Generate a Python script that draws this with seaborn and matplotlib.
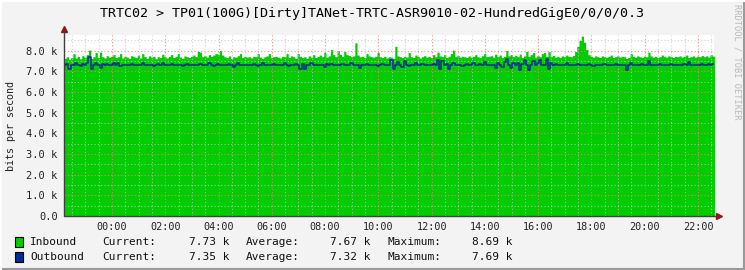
import numpy as np
import pandas as pd
import matplotlib
matplotlib.use("Agg")
import matplotlib.pyplot as plt
import seaborn as sns
from matplotlib.ticker import MultipleLocator, FixedLocator, FixedFormatter
from matplotlib.lines import Line2D
from matplotlib.patches import Rectangle

# ---------------- data ----------------
title = "TRTC02 > TP01(100G)[Dirty]TANet-TRTC-ASR9010-02-HundredGigE0/0/0/0.3"
y_label = "bits per second"
watermark = "RRDTOOL / TOBI OETIKER"

start_hour = -1.8          # 22:12 of the previous day
step_hours = 1 / 12        # 5-minute samples

# one row = one hour of 5-minute samples, starting at 22:12
inbound_k = [
    7.62, 7.70, 7.58, 7.66, 7.85, 7.64, 7.72, 7.60, 7.75, 7.68, 7.80, 8.02,
    7.62, 7.70, 7.90, 7.66, 7.92, 7.70, 7.64, 7.75, 7.68, 7.72, 7.80, 7.66,
    7.70, 7.85, 7.64, 7.72, 7.68, 7.62, 7.75, 7.70, 7.66, 7.78, 7.64, 7.85,
    7.70, 7.62, 7.74, 7.68, 7.72, 7.60, 7.70, 7.66, 7.82, 7.70, 7.64, 7.72,
    7.80, 7.66, 7.72, 7.85, 7.68, 7.62, 7.74, 7.70, 7.66, 7.72, 7.78, 7.70,
    7.95, 7.92, 7.70, 7.75, 7.68, 7.80, 7.72, 7.78, 7.85, 7.82, 8.00, 7.78,
    7.70, 7.66, 7.74, 7.62, 7.70, 7.68, 7.75, 7.85, 7.66, 7.72, 7.68, 7.70,
    7.64, 7.72, 7.70, 7.85, 7.68, 7.62, 7.70, 7.74, 7.85, 7.66, 7.70, 7.72,
    7.68, 7.64, 7.72, 7.70, 7.85, 7.66, 7.74, 7.70, 7.62, 7.85, 7.72, 7.66,
    7.70, 7.62, 7.74, 7.68, 7.80, 7.66, 7.72, 7.78, 7.70, 7.90, 7.68, 7.74,
    8.05, 7.80, 7.70, 8.00, 7.82, 7.72, 7.95, 7.80, 7.76, 7.70, 7.74, 8.37,
    7.78, 7.70, 7.72, 7.66, 7.85, 7.74, 7.70, 7.68, 7.72, 7.90, 7.70, 7.66,
    7.72, 7.64, 7.70, 7.68, 7.62, 8.20, 7.74, 7.70, 7.66, 7.72, 7.68, 7.90,
    7.70, 7.66, 7.78, 7.72, 7.64, 7.70, 7.75, 7.68, 7.72, 7.66, 7.80, 7.70,
    7.92, 7.74, 7.70, 7.80, 7.66, 7.72, 7.85, 8.02, 7.70, 7.76, 7.68, 7.72,
    7.70, 7.66, 7.74, 7.68, 7.72, 7.80, 7.70, 7.66, 7.75, 7.85, 7.70, 7.72,
    7.75, 7.68, 7.82, 7.70, 7.78, 7.66, 7.72, 8.00, 7.74, 7.80, 7.70, 7.76,
    7.70, 7.82, 7.66, 7.74, 7.95, 7.72, 7.80, 7.90, 7.68, 7.75, 7.70, 7.85,
    7.90, 7.72, 7.95, 7.70, 7.76, 7.68, 7.72, 7.66, 7.74, 7.70, 7.78, 7.72,
    7.70, 7.76, 7.95, 8.20, 8.50, 8.69, 8.40, 8.05, 7.80, 7.72, 7.68, 7.74,
    7.70, 7.66, 7.74, 7.70, 7.68, 7.72, 7.78, 7.66, 7.70, 7.74, 7.68, 7.72,
    7.70, 7.62, 7.66, 7.85, 7.72, 7.68, 7.74, 7.70, 7.66, 7.72, 7.70, 7.92,
    7.74, 7.68, 7.72, 7.66, 7.70, 7.78, 7.72, 7.68, 7.74, 7.70, 7.66, 7.72,
    7.70, 7.74, 7.68, 7.72, 7.78, 7.66, 7.70, 7.74, 7.68, 7.72, 7.70, 7.76,
    7.70, 7.74, 7.68, 7.80, 7.73, 7.73,
]

outbound_k = [
    7.30, 7.35, 7.12, 7.28, 7.32, 7.38, 7.30, 7.26, 7.35, 7.30, 7.40, 7.69,
    7.10, 7.30, 7.42, 7.28, 7.15, 7.35, 7.30, 7.36, 7.28, 7.32, 7.40, 7.30,
    7.38, 7.26, 7.30, 7.32, 7.28, 7.30, 7.35, 7.30, 7.28, 7.32, 7.30, 7.40,
    7.30, 7.28, 7.32, 7.30, 7.26, 7.30, 7.34, 7.30, 7.38, 7.30, 7.28, 7.30,
    7.35, 7.30, 7.28, 7.32, 7.30, 7.26, 7.30, 7.34, 7.30, 7.28, 7.32, 7.30,
    7.30, 7.34, 7.30, 7.28, 7.32, 7.38, 7.30, 7.26, 7.30, 7.35, 7.30, 7.32,
    7.28, 7.30, 7.34, 7.30, 7.18, 7.30, 7.38, 7.30, 7.28, 7.32, 7.30, 7.28,
    7.30, 7.35, 7.30, 7.26, 7.30, 7.40, 7.30, 7.28, 7.32, 7.30, 7.34, 7.30,
    7.28, 7.32, 7.30, 7.38, 7.30, 7.26, 7.32, 7.30, 7.36, 7.30, 7.12, 7.35,
    7.10, 7.32, 7.30, 7.38, 7.30, 7.28, 7.32, 7.30, 7.28, 7.20, 7.34, 7.30,
    7.35, 7.30, 7.28, 7.32, 7.30, 7.34, 7.30, 7.28, 7.30, 7.38, 7.30, 7.32,
    7.30, 7.15, 7.32, 7.30, 7.36, 7.30, 7.28, 7.32, 7.30, 7.26, 7.30, 7.34,
    7.30, 7.28, 7.32, 7.55, 7.12, 7.30, 7.45, 7.28, 7.20, 7.50, 7.30, 7.26,
    7.32, 7.30, 7.38, 7.28, 7.30, 7.34, 7.30, 7.28, 7.32, 7.30, 7.36, 7.30,
    7.55, 7.10, 7.48, 7.30, 7.35, 7.10, 7.30, 7.40, 7.28, 7.32, 7.30, 7.26,
    7.30, 7.34, 7.28, 7.32, 7.40, 7.30, 7.28, 7.35, 7.30, 7.45, 7.30, 7.28,
    7.32, 7.30, 7.15, 7.40, 7.30, 7.20, 7.45, 7.60, 7.30, 7.15, 7.38, 7.30,
    7.40, 7.05, 7.35, 7.55, 7.30, 7.05, 7.32, 7.50, 7.30, 7.40, 7.55, 7.32,
    7.30, 7.60, 7.10, 7.38, 7.30, 7.34, 7.30, 7.28, 7.32, 7.30, 7.40, 7.30,
    7.32, 7.30, 7.28, 7.35, 7.30, 7.32, 7.30, 7.28, 7.34, 7.30, 7.26, 7.30,
    7.32, 7.28, 7.30, 7.34, 7.30, 7.28, 7.32, 7.30, 7.36, 7.30, 7.28, 7.32,
    7.30, 7.05, 7.30, 7.38, 7.30, 7.32, 7.28, 7.30, 7.35, 7.30, 7.28, 7.50,
    7.30, 7.32, 7.28, 7.30, 7.34, 7.30, 7.28, 7.32, 7.30, 7.36, 7.30, 7.28,
    7.32, 7.30, 7.28, 7.34, 7.30, 7.45, 7.30, 7.28, 7.32, 7.30, 7.28, 7.34,
    7.30, 7.32, 7.35, 7.30, 7.35, 7.35,
]

x_tick_hours = [0, 2, 4, 6, 8, 10, 12, 14, 16, 18, 20, 22]
x_tick_labels = ["00:00", "02:00", "04:00", "06:00", "08:00", "10:00",
                 "12:00", "14:00", "16:00", "18:00", "20:00", "22:00"]
y_ticks_k = [0, 1, 2, 3, 4, 5, 6, 7, 8]
y_tick_labels = ["0.0", "1.0 k", "2.0 k", "3.0 k", "4.0 k", "5.0 k",
                 "6.0 k", "7.0 k", "8.0 k"]

series_names = ["Inbound", "Outbound"]
series_colors = ["#00CC00", "#002A97"]
current_vals = ["7.73 k", "7.35 k"]
average_vals = ["7.67 k", "7.32 k"]
maximum_vals = ["8.69 k", "7.69 k"]

# ---------------- figure ----------------
sns.set_theme(style="white")
plt.rcParams["font.family"] = ["DejaVu Sans Mono", "DejaVu Sans"]

W, H = 745, 270
fig = plt.figure(figsize=(W / 100, H / 100), dpi=100)
fig.patch.set_facecolor("#F3F3F3")

def fx(x):
    return x / W

def fy(y):
    return 1 - y / H

L, R, T, B = 64, 714, 35, 216
ax = fig.add_axes([fx(L), fy(B), (R - L) / W, (B - T) / H])
ax.set_facecolor("white")

n = min(len(inbound_k), len(outbound_k))
hours = start_hour + np.arange(n) * step_hours
df = pd.DataFrame({"hour": hours, "inbound": inbound_k[:n], "outbound": outbound_k[:n]})

ax.fill_between(df["hour"], 0, df["inbound"], step="post",
                color=series_colors[0], lw=0, zorder=1)
sns.lineplot(data=df, x="hour", y="outbound", ax=ax, drawstyle="steps-post",
             color=series_colors[1], lw=1.1, zorder=3)

ax.set_xlim(-1.8, 22.6)
ax.set_ylim(0, 8.75)

ax.xaxis.set_major_locator(FixedLocator(x_tick_hours))
ax.xaxis.set_major_formatter(FixedFormatter(x_tick_labels))
ax.xaxis.set_minor_locator(MultipleLocator(0.5))
ax.yaxis.set_major_locator(FixedLocator(y_ticks_k))
ax.yaxis.set_major_formatter(FixedFormatter(y_tick_labels))
ax.yaxis.set_minor_locator(MultipleLocator(0.5))

ax.set_axisbelow(False)
ax.grid(which="minor", color="#C8C8C8", lw=0.8, ls=(0, (1, 2)), alpha=0.8)
ax.grid(which="major", color="#F08080", lw=0.8, ls=(0, (1, 2)), alpha=0.9)

ax.tick_params(which="both", direction="out", color="#808080", width=0.8)
ax.tick_params(which="major", length=2.5)
ax.tick_params(which="minor", length=1.5)
ax.tick_params(axis="y", which="major", labelsize=7.5, pad=2, labelcolor="#222222")
ax.tick_params(axis="x", which="major", labelsize=7.3, pad=1.5, labelcolor="#222222")
ax.set_xlabel("")
ax.set_ylabel("")

for s in ax.spines.values():
    s.set_visible(False)

# axes with arrows
ext_top = 6 / (B - T)
ext_right = 5 / (R - L)
ax.plot([0, 0], [0, 1 + ext_top], transform=ax.transAxes, color="#404040",
        lw=1, clip_on=False, zorder=5)
ax.plot([0, 1 + ext_right], [0, 0], transform=ax.transAxes, color="#404040",
        lw=1, clip_on=False, zorder=5)
ax.plot([0], [1 + ext_top], transform=ax.transAxes, marker="^", ms=4.5,
        color="#8B1A1A", clip_on=False, zorder=6)
ax.plot([1 + ext_right], [0], transform=ax.transAxes, marker=">", ms=4.5,
        color="#8B1A1A", clip_on=False, zorder=6)

# texts
fig.text(fx(372.5), fy(14), title, ha="center", va="center", fontsize=9.6,
         color="#000000")
fig.text(fx(11), fy(126), y_label, rotation=90, ha="center", va="center",
         fontsize=7.2, color="#222222")
fig.text(fx(737), fy(4), watermark, rotation=270, ha="center", va="top",
         fontsize=6.2, color="#B8B8B8")

# legend
row_y = [242, 257]
for i, name in enumerate(series_names):
    yy = row_y[i]
    fig.add_artist(Rectangle((fx(15), fy(yy + 5)), 8 / W, 10 / H,
                             transform=fig.transFigure, facecolor=series_colors[i],
                             edgecolor="#000000", lw=0.8))
    kw = dict(va="center", fontsize=8, color="#111111")
    fig.text(fx(30), fy(yy), name, ha="left", **kw)
    fig.text(fx(102), fy(yy), "Current:", ha="left", **kw)
    fig.text(fx(229), fy(yy), current_vals[i], ha="right", **kw)
    fig.text(fx(246), fy(yy), "Average:", ha="left", **kw)
    fig.text(fx(371), fy(yy), average_vals[i], ha="right", **kw)
    fig.text(fx(387), fy(yy), "Maximum:", ha="left", **kw)
    fig.text(fx(513), fy(yy), maximum_vals[i], ha="right", **kw)

# 3D-like border
fig.add_artist(Line2D([0, 1], [0.002, 0.002], transform=fig.transFigure,
                      color="#9A9A9A", lw=1.5))
fig.add_artist(Line2D([0.999, 0.999], [0, 1], transform=fig.transFigure,
                      color="#9A9A9A", lw=1.5))
fig.add_artist(Line2D([0, 1], [0.998, 0.998], transform=fig.transFigure,
                      color="#FFFFFF", lw=1.5))
fig.add_artist(Line2D([0.001, 0.001], [0, 1], transform=fig.transFigure,
                      color="#FFFFFF", lw=1.5))

fig.savefig("out.png", dpi=100, facecolor=fig.get_facecolor())
